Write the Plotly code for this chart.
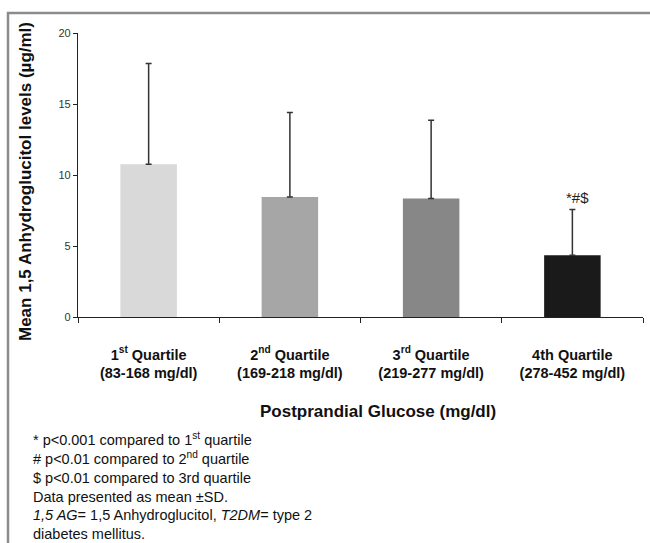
import plotly.graph_objects as go

categories = ["Q1", "Q2", "Q3", "Q4"]
tick_labels = [
    "<b>1<sup>st</sup> Quartile<br>(83-168 mg/dl)</b>",
    "<b>2<sup>nd</sup> Quartile<br>(169-218 mg/dl)</b>",
    "<b>3<sup>rd</sup> Quartile<br>(219-277 mg/dl)</b>",
    "<b>4th Quartile<br>(278-452 mg/dl)</b>",
]
means = [10.75, 8.45, 8.35, 4.35]
sds = [7.1, 5.95, 5.5, 3.22]
bar_colors = ["#d9d9d9", "#a6a6a6", "#878787", "#1a1a1a"]
sig_label = "*#$"
footnote_lines = [
    "* p&lt;0.001 compared to 1<sup>st</sup> quartile",
    "# p&lt;0.01 compared to 2<sup>nd</sup> quartile",
    "$ p&lt;0.01 compared to 3rd quartile",
    "Data presented as mean ±SD.",
    "<i>1,5 AG</i>= 1,5 Anhydroglucitol, <i>T2DM</i>= type 2",
    "diabetes mellitus.",
]

W, H = 650, 543
L, R, T, B = 78, 7, 33, 226
pw, ph = W - L - R, H - T - B


def px_x(p):
    return (p - L) / pw


def px_y(p):
    return (H - B - p) / ph


fig = go.Figure()
fig.add_trace(go.Bar(
    x=categories, y=means,
    marker=dict(color=bar_colors, line=dict(width=0)),
    width=0.4,
    error_y=dict(type="data", array=sds, symmetric=False, arrayminus=[0] * 4,
                 color="#333333", thickness=1.5, width=3),
    showlegend=False,
))

fig.add_annotation(x=categories[3], y=means[3] + sds[3] + 0.1, text=sig_label,
                   showarrow=False, yanchor="bottom", xshift=5,
                   font=dict(family="Liberation Sans", size=15, color="#222"))

fig.add_annotation(xref="paper", yref="paper", x=px_x(25), y=px_y(182),
                   xanchor="center", yanchor="middle",
                   text="<b>Mean 1,5 Anhydroglucitol levels (µg/ml)</b>",
                   textangle=-90, showarrow=False,
                   font=dict(family="Liberation Sans", size=17, color="#111"))

fig.add_annotation(xref="paper", yref="paper", x=px_x(378), y=px_y(412),
                   xanchor="center", yanchor="middle",
                   text="<b>Postprandial Glucose (mg/dl)</b>", showarrow=False,
                   font=dict(family="Liberation Sans", size=17, color="#111"))

fig.add_annotation(xref="paper", yref="paper", x=px_x(31), y=px_y(428),
                   xanchor="left", yanchor="top", align="left",
                   text="<br>".join(footnote_lines), showarrow=False,
                   font=dict(family="Liberation Sans", size=14.5, color="#111"))

fig.add_shape(type="rect", xref="paper", yref="paper",
              x0=px_x(8), x1=px_x(660), y0=px_y(560), y1=px_y(13),
              line=dict(color="#8c8c8c", width=2.5), fillcolor="rgba(0,0,0,0)",
              layer="below")

fig.update_layout(
    width=W, height=H,
    margin=dict(l=L, r=R, t=T, b=B),
    paper_bgcolor="white", plot_bgcolor="white",
    bargap=0.6,
    xaxis=dict(
        tickmode="array", tickvals=categories, ticktext=tick_labels,
        tickson="boundaries", ticks="outside", ticklen=5, tickcolor="#222",
        showline=True, linecolor="#222", linewidth=1.2, showgrid=False,
        ticklabelstandoff=24,
        tickfont=dict(family="Liberation Sans", size=14.5, color="#111"),
        range=[-0.5, 3.5],
    ),
    yaxis=dict(
        range=[0, 20], tickvals=[0, 5, 10, 15, 20],
        ticks="outside", ticklen=4, tickcolor="#222",
        showline=True, linecolor="#222", linewidth=1.2, showgrid=False,
        zeroline=False,
        tickfont=dict(family="Liberation Sans", size=11, color="#333"),
    ),
)

fig.write_html("out.html", config={"displayModeBar": False},
               post_script="document.body.style.margin='0';document.body.style.overflow='hidden';")
